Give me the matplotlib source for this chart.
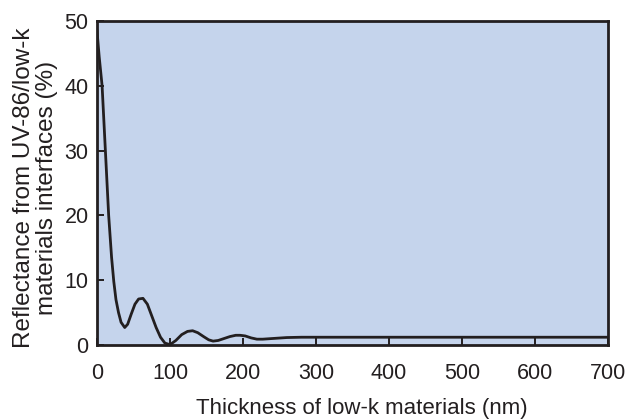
import matplotlib
matplotlib.use("Agg")
import matplotlib.pyplot as plt

plt.rcParams['font.family'] = ['Liberation Sans', 'DejaVu Sans']

# thickness (nm) and reflectance (%)
thickness = [0, 3, 7, 11.5, 16, 20, 23, 26, 29.5, 33, 38, 42, 47, 52, 57, 63,
             69, 75, 81, 87, 93, 100, 108, 116, 124, 131, 138, 146, 153, 159,
             166, 174, 182, 190, 196, 203, 211, 219, 227, 240, 260, 280, 300, 700]
reflectance = [48.5, 44.5, 40, 30, 20, 13.5, 9.8, 7, 5, 3.5, 2.7, 3.2, 4.8, 6.3,
               7.1, 7.2, 6.3, 4.5, 2.7, 1.2, 0.3, 0.05, 0.7, 1.6, 2.1, 2.2, 1.9,
               1.3, 0.8, 0.6, 0.7, 1.0, 1.3, 1.5, 1.5, 1.4, 1.1, 0.9, 0.9, 1.0,
               1.15, 1.2, 1.2, 1.2]
xticks = [0, 100, 200, 300, 400, 500, 600, 700]
yticks = [0, 10, 20, 30, 40, 50]

ink = '#231f20'

fig = plt.figure(figsize=(6.31, 4.19), dpi=100)
ax = fig.add_axes([0.1537, 0.1766, 0.81, 0.7734])
ax.set_facecolor('#c5d4ec')
ax.plot(thickness, reflectance, color=ink, lw=2, solid_joinstyle='round')

ax.set_xlim(0, 700)
ax.set_ylim(0, 50)
ax.set_xticks(xticks)
ax.set_yticks(yticks)
ax.tick_params(direction='in', length=5, width=1.4, labelsize=15.5,
               colors=ink, labelcolor=ink)
ax.tick_params(axis='x', pad=13)
ax.tick_params(axis='y', pad=6)
for s in ax.spines.values():
    s.set_linewidth(2)
    s.set_color(ink)

ax.set_xlabel('Thickness of low-k materials (nm)', fontsize=16, color=ink, va='center')
ax.xaxis.set_label_coords(0.519, -0.195)
ax.set_ylabel('Reflectance from UV-86/low-k\nmaterials interfaces (%)', fontsize=17.5,
              color=ink, linespacing=1.05, va='center')
ax.yaxis.set_label_coords(-0.12, 0.485)

fig.savefig('out.png', dpi=100)
